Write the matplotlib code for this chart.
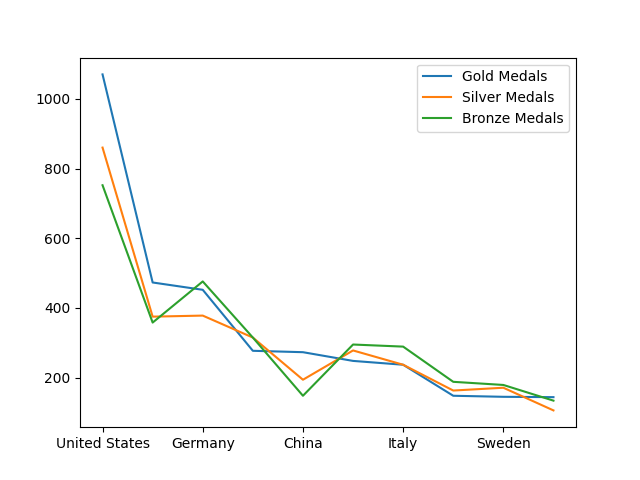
import matplotlib
matplotlib.use("Agg")
import matplotlib.pyplot as plt

countries = ["United States", "Soviet Union", "Germany", "Great Britain", "China",
             "France", "Italy", "Hungary", "Sweden", "Australia"]
gold = [1070, 473, 452, 277, 273, 248, 237, 148, 145, 144]
silver = [860, 375, 378, 315, 194, 278, 237, 163, 171, 106]
bronze = [752, 358, 476, 315, 148, 295, 289, 188, 179, 134]

fig, ax = plt.subplots(figsize=(6.4, 4.8), dpi=100)
x = list(range(len(countries)))
ax.plot(x, gold, label="Gold Medals")
ax.plot(x, silver, label="Silver Medals")
ax.plot(x, bronze, label="Bronze Medals")
ax.set_xticks(x[::2])
ax.set_xticklabels(countries[::2])
ax.legend()
fig.savefig("out.png")
